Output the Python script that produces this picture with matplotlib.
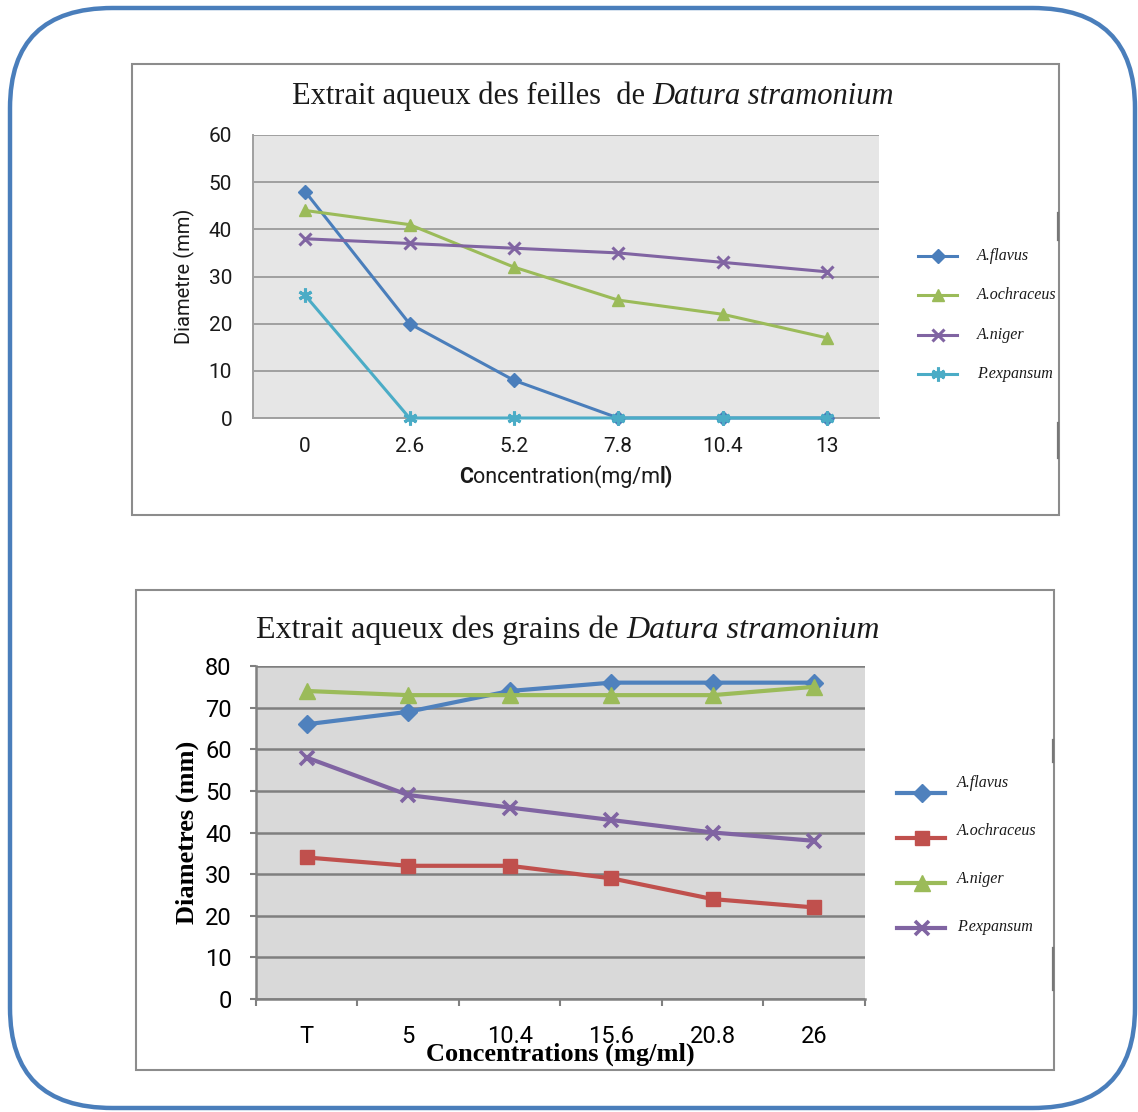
import matplotlib
matplotlib.use("Agg")
import matplotlib.pyplot as plt
from matplotlib.patches import FancyBboxPatch, Rectangle
from matplotlib.lines import Line2D
from matplotlib import font_manager as fm

# ---- data -------------------------------------------------------------
leaf_conc = ["0", "2.6", "5.2", "7.8", "10.4", "13"]
leaf_flavus = [48, 20, 8, 0, 0, 0]
leaf_ochraceus = [44, 41, 32, 25, 22, 17]
leaf_niger = [38, 37, 36, 35, 33, 31]
leaf_expansum = [26, 0, 0, 0, 0, 0]

grain_conc = ["T", "5", "10.4", "15.6", "20.8", "26"]
grain_flavus = [66, 69, 74, 76, 76, 76]
grain_ochraceus = [34, 32, 32, 29, 24, 22]
grain_niger = [74, 73, 73, 73, 73, 75]
grain_expansum = [58, 49, 46, 43, 40, 38]

species = ["A.flavus", "A.ochraceus", "A.niger", "P.expansum"]

# ---- fonts ------------------------------------------------------------
def pick(names, default):
    for n in names:
        try:
            fm.findfont(fm.FontProperties(family=n), fallback_to_default=False)
            return n
        except Exception:
            pass
    return default

SERIF = pick(["Liberation Serif"], "DejaVu Serif")
SANS = pick(["Liberation Sans Narrow", "Roboto", "Open Sans"], "DejaVu Sans")

W, H, DPI = 1138, 1112, 100
fig = plt.figure(figsize=(W / DPI, H / DPI), dpi=DPI)
fig.patch.set_facecolor("white")


def fx(x):
    return x / W


def fy(y):
    return 1 - y / H


def text_run(x_center, y, pieces, size, family):
    """Draw consecutive text pieces (text, weight, style) centred on x_center."""
    arts = []
    for txt, weight, style in pieces:
        arts.append(fig.text(0, fy(y), txt, fontfamily=family, fontweight=weight,
                             fontstyle=style, fontsize=size, va="center", ha="left",
                             color="#1a1a1a", zorder=6))
    fig.canvas.draw()
    r = fig.canvas.get_renderer()
    widths = [a.get_window_extent(r).width for a in arts]
    x = x_center - sum(widths) / 2
    for a, w in zip(arts, widths):
        a.set_x(fx(x))
        x += w
    return arts


# outer rounded frame
frame = FancyBboxPatch((fx(10), fy(1108)), fx(1125), (1100) / H,
                       boxstyle="round,pad=0,rounding_size=0.09",
                       transform=fig.transFigure, facecolor="white",
                       edgecolor="#4a7ebb", linewidth=3.2, zorder=0)
fig.add_artist(frame)

# panel boxes
for (x0, y0, x1, y1) in [(132, 64, 1059, 515), (136, 590, 1054, 1070)]:
    fig.add_artist(Rectangle((fx(x0), fy(y1)), (x1 - x0) / W, (y1 - y0) / H,
                             transform=fig.transFigure, facecolor="white",
                             edgecolor="#8c8c8c", linewidth=1.5, zorder=1))

# small dark segments along the right edges of the panels
for (x, ya, yb) in [(1058, 213, 240), (1058, 423, 458), (1053, 740, 762), (1053, 948, 990)]:
    fig.add_artist(Line2D([fx(x), fx(x)], [fy(ya), fy(yb)], transform=fig.transFigure,
                          color="#777777", linewidth=1.6, zorder=2))

# ---- top chart: leaves ------------------------------------------------
ax1 = fig.add_axes([fx(253), fy(418), (879 - 253) / W, (418 - 135) / H])
ax1.set_zorder(5)
ax1.set_facecolor("#e6e6e6")
xs = range(len(leaf_conc))
top_styles = [
    (leaf_flavus, "#4a7ebb", "D", 7, 1.0),
    (leaf_ochraceus, "#9bbb59", "^", 9, 1.0),
    (leaf_niger, "#8064a2", "x", 8, 2.2),
    (leaf_expansum, "#4bacc6", (6, 2, 0), 10, 2.2),
]
for vals, col, mk, ms, mew in top_styles:
    ax1.plot(xs, vals, color=col, linewidth=2.2, marker=mk, markersize=ms,
             markeredgewidth=mew, markeredgecolor=col, markerfacecolor=col,
             zorder=3, clip_on=False)
ax1.set_xlim(-0.5, len(leaf_conc) - 0.5)
ax1.set_ylim(0, 60)
ax1.set_yticks(range(0, 61, 10))
ax1.set_xticks(list(xs))
ax1.set_xticklabels(leaf_conc)
ax1.grid(axis="y", color="#a0a0a0", linewidth=1.4)
ax1.set_axisbelow(True)
for s in ["top", "right"]:
    ax1.spines[s].set_visible(False)
for s in ["left", "bottom"]:
    ax1.spines[s].set_color("#a0a0a0")
    ax1.spines[s].set_linewidth(1.4)
ax1.tick_params(axis="both", length=0, labelsize=15, colors="#1a1a1a")
ax1.tick_params(axis="y", pad=15)
ax1.tick_params(axis="x", pad=14)
for lab in ax1.get_xticklabels() + ax1.get_yticklabels():
    lab.set_fontfamily(SANS)
ax1.set_ylabel("Diametre (mm)", fontfamily=SANS, fontsize=14.5, labelpad=10, color="#1a1a1a")

# axis title of the top chart, with its bold first and last letters
text_run(566, 477, [("C", "bold", "normal"), ("oncentration(mg/m", "normal", "normal"),
                    ("l)", "bold", "normal")], 15.5, SANS)

t1a = fig.text(fx(292), fy(96), "Extrait aqueux des feilles  de ", fontfamily=SERIF,
               fontsize=22, va="center", ha="left", color="#1a1a1a", zorder=6)
fig.canvas.draw()
bb = t1a.get_window_extent()
fig.text(bb.x1 / W, fy(96), "Datura stramonium", fontfamily=SERIF, fontstyle="italic",
         fontsize=22, va="center", ha="left", color="#1a1a1a", zorder=6)

# legend for the top chart
for i, (name, (vals, col, mk, ms, mew)) in enumerate(zip(species, top_styles)):
    yy = fy(256 + i * 39.3)
    fig.add_artist(Line2D([fx(918), fx(938), fx(957)], [yy, yy, yy], transform=fig.transFigure,
                          color=col, linewidth=2.2, marker=mk, markevery=[1], markersize=ms,
                          markeredgewidth=mew, markerfacecolor=col, markeredgecolor=col,
                          zorder=6))
    fig.text(fx(977), yy, name, fontfamily=SERIF, fontstyle="italic", fontsize=11.5,
             va="center", ha="left", color="#1a1a1a", zorder=6)

# ---- bottom chart: grains ---------------------------------------------
ax2 = fig.add_axes([fx(256), fy(999), (865 - 256) / W, (999 - 666) / H])
ax2.set_zorder(5)
ax2.set_facecolor("#d9d9d9")
xs2 = range(len(grain_conc))
bot_styles = [
    (grain_flavus, "#4f81bd", "D", 9.5, 1.0),
    (grain_ochraceus, "#c0504d", "s", 10.5, 1.0),
    (grain_niger, "#9bbb59", "^", 11, 1.0),
    (grain_expansum, "#8064a2", "x", 10, 2.6),
]
for vals, col, mk, ms, mew in bot_styles:
    ax2.plot(xs2, vals, color=col, linewidth=3.0, marker=mk, markersize=ms,
             markeredgewidth=mew, markeredgecolor=col, markerfacecolor=col,
             zorder=3, clip_on=False)
ax2.set_xlim(-0.5, len(grain_conc) - 0.5)
ax2.set_ylim(0, 80)
ax2.set_yticks(range(0, 81, 10))
ax2.set_xticks(list(xs2))
ax2.set_xticklabels(grain_conc)
ax2.set_xticks([i - 0.5 for i in range(len(grain_conc) + 1)], minor=True)
ax2.grid(axis="y", color="#7f7f7f", linewidth=1.8)
ax2.set_axisbelow(True)
for s in ["top", "right"]:
    ax2.spines[s].set_visible(False)
for s in ["left", "bottom"]:
    ax2.spines[s].set_color("#808080")
    ax2.spines[s].set_linewidth(1.8)
ax2.tick_params(axis="x", which="major", length=0, pad=19, labelsize=17)
ax2.tick_params(axis="x", which="minor", length=5, width=1.5, color="#808080", direction="out")
ax2.tick_params(axis="y", length=4.5, width=1.5, color="#808080", direction="out",
                labelsize=17, pad=13)
for lab in ax2.get_xticklabels() + ax2.get_yticklabels():
    lab.set_fontfamily(SANS)
ax2.set_ylabel("Diametres (mm)", fontfamily=SERIF, fontweight="bold", fontsize=19, labelpad=4)
ax2.set_xlabel("Concentrations (mg/ml)", fontfamily=SERIF, fontweight="bold", fontsize=19,
               labelpad=-4.5)

t2a = fig.text(fx(256), fy(630), "Extrait aqueux des grains de ", fontfamily=SERIF,
               fontsize=23, va="center", ha="left", color="#1a1a1a", zorder=6)
fig.canvas.draw()
bb2 = t2a.get_window_extent()
fig.text(bb2.x1 / W, fy(630), "Datura stramonium", fontfamily=SERIF, fontstyle="italic",
         fontsize=23, va="center", ha="left", color="#1a1a1a", zorder=6)

# legend for the bottom chart
for i, (name, (vals, col, mk, ms, mew)) in enumerate(zip(species, bot_styles)):
    yy = fy(793 + i * 45)
    fig.add_artist(Line2D([fx(897), fx(922), fx(945)], [yy, yy, yy], transform=fig.transFigure,
                          color=col, linewidth=3.0, marker=mk, markevery=[1], markersize=ms,
                          markeredgewidth=mew, markerfacecolor=col, markeredgecolor=col,
                          zorder=6))
    fig.text(fx(957), fy(783 + i * 48), name, fontfamily=SERIF, fontstyle="italic",
             fontsize=11.5, va="center", ha="left", color="#1a1a1a", zorder=6)

fig.savefig("out.png", dpi=DPI)
